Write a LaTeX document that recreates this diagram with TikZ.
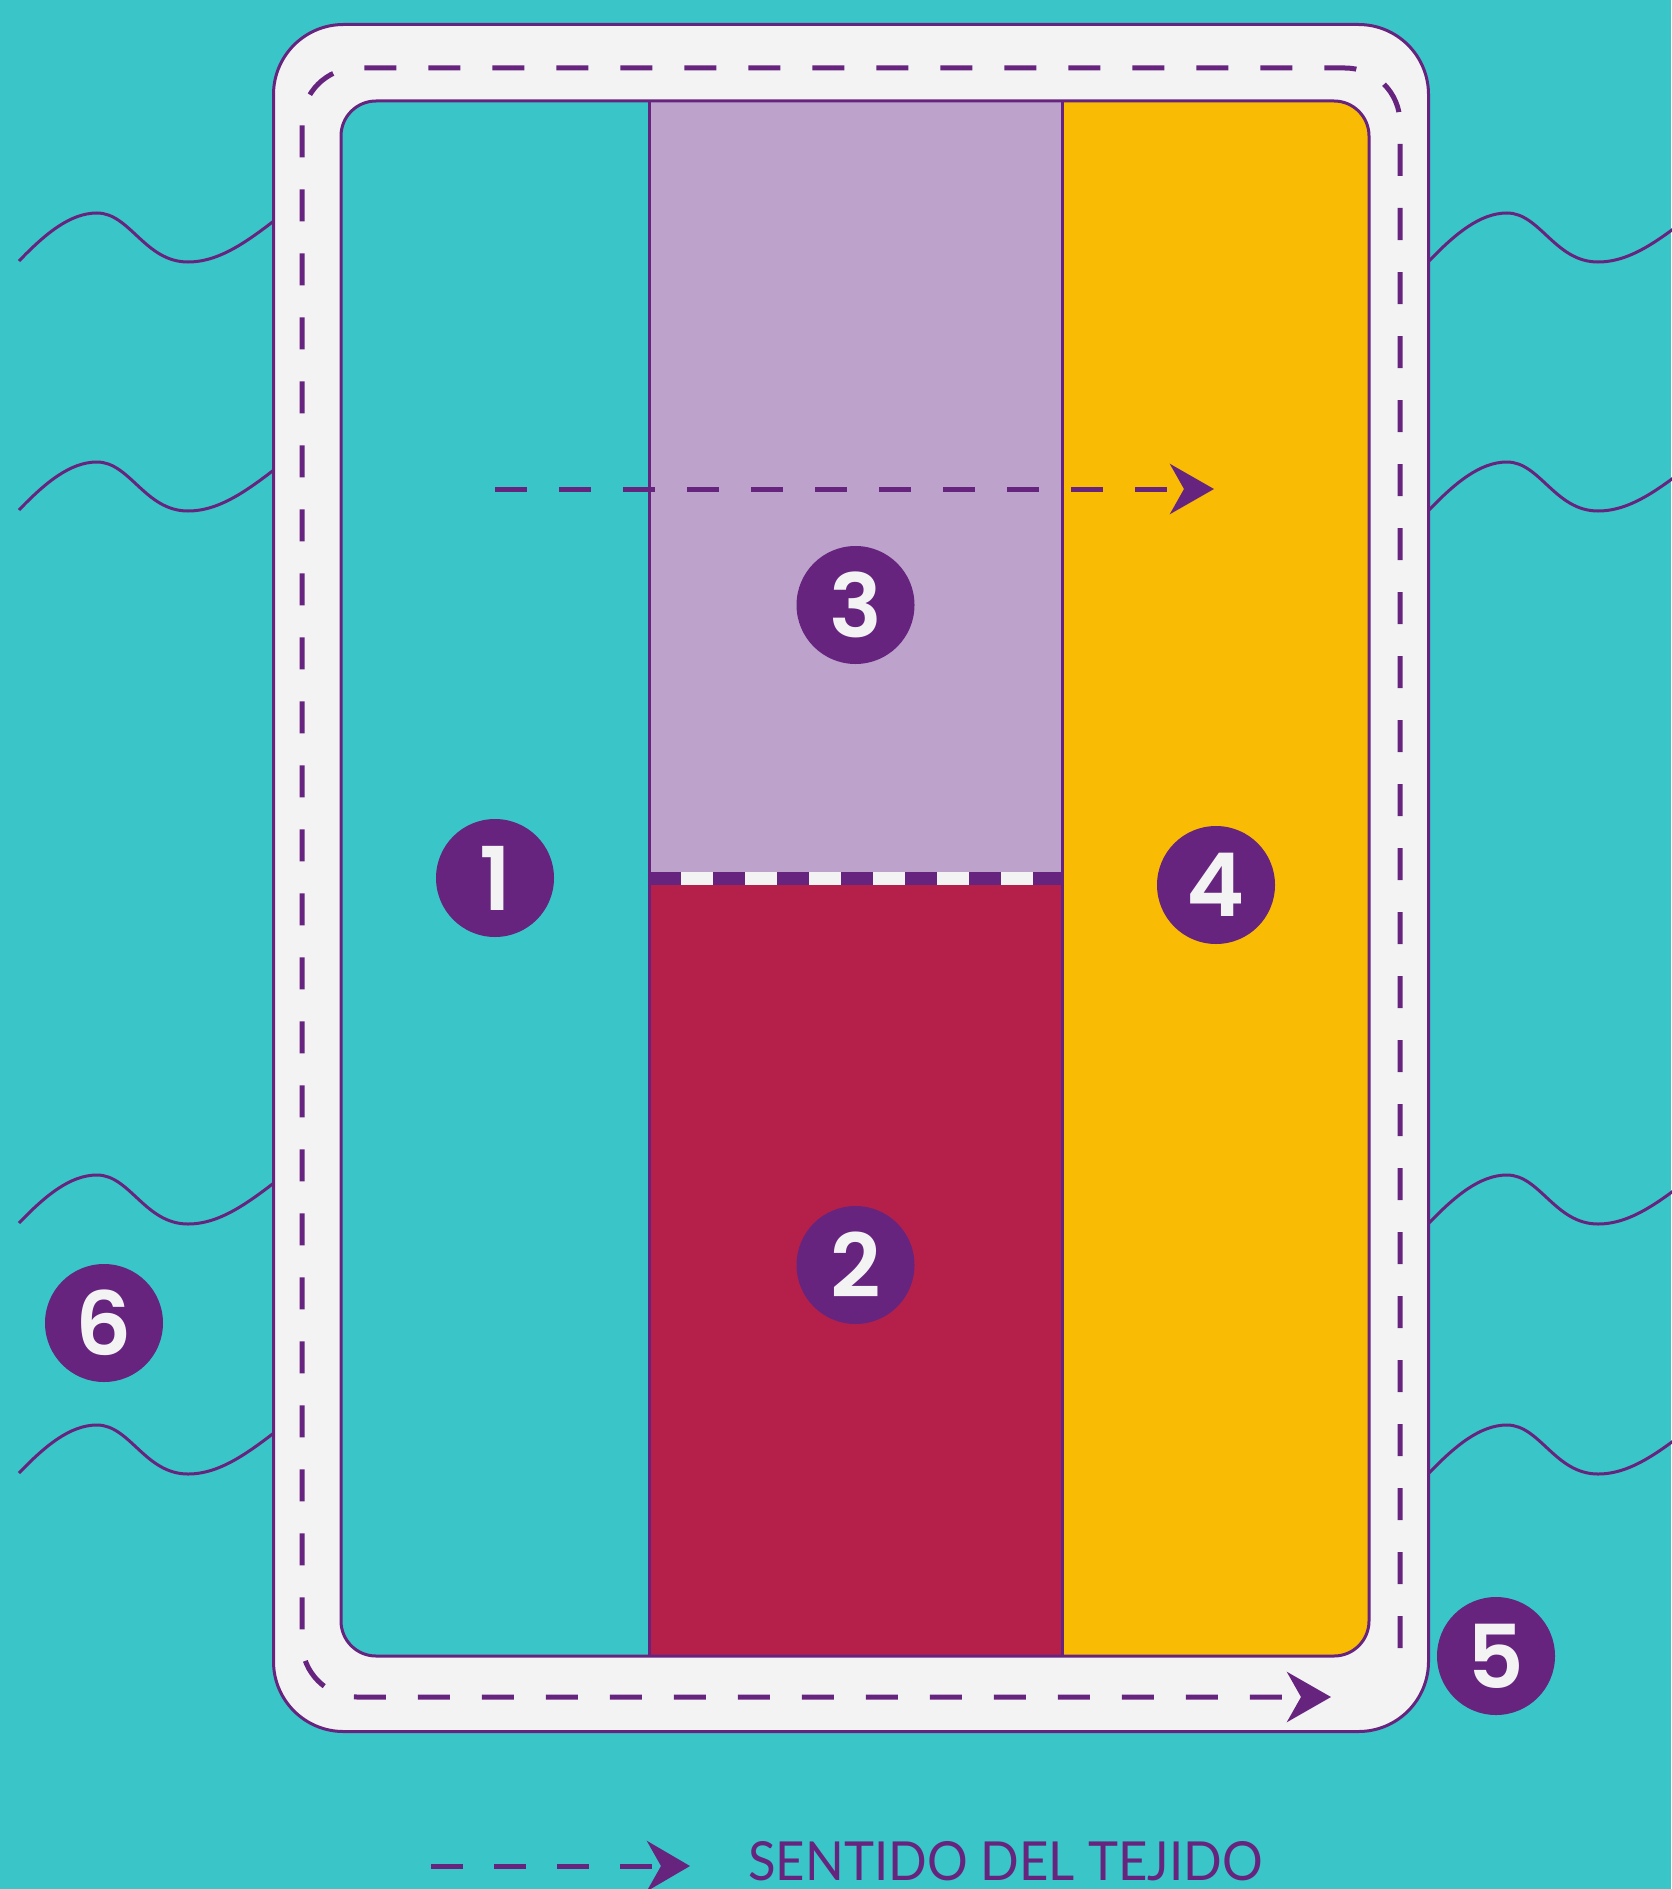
\documentclass[tikz,border=0pt]{standalone}
\usepackage{fontspec}
\usepackage{graphicx}
\setmainfont{Poppins}
\newfontfamily\numfont{Poppins}[UprightFont={* SemiBold}]
\newfontfamily\legendfont{Lato}
\usetikzlibrary{arrows.meta}
\definecolor{sea}{HTML}{3AC5C8}
\definecolor{plum}{HTML}{66247F}
\definecolor{lilac}{HTML}{BDA3CC}
\definecolor{ruby}{HTML}{B5204B}
\definecolor{amber}{HTML}{FABB04}
\definecolor{paper}{HTML}{F3F3F3}

\begin{document}
\begin{tikzpicture}[x=1pt,y=-1pt,
  thread/.style={draw=plum,line width=3pt},
  edge/.style={draw=plum,line width=3pt},
  grain/.style={draw=plum,line width=5pt,dash pattern=on 32pt off 32pt},
  grainhead/.style={-{Stealth[length=44pt,width=50pt,inset=14pt]}},
  numdot/.style={circle,fill=plum,minimum size=118pt,inner sep=0pt,text=paper,
    font=\fontsize{88}{88}\selectfont\numfont}]
\useasboundingbox (0,0) rectangle (1671,1889);
\fill[sea] (0,0) rectangle (1671,1889);

\foreach \dy in {0,249,962,1212} {
  \foreach \dx in {0,1410} {
    \draw[thread,shift={(\dx,\dy)}] (19,261) .. controls (45,234) and (70,213) .. (97,213)
      .. controls (130,213) and (145,262) .. (188,262)
      .. controls (222,262) and (252,238) .. (288,210);
  }
}

\draw[edge,fill=paper,rounded corners=70pt] (273.5,24.5) rectangle (1428.5,1731.5);

\coordinate (tl) at (341,101);
\coordinate (br) at (1369,1656);
\begin{scope}
\clip[rounded corners=35pt] (tl) rectangle (br);
\fill[sea] (tl) rectangle (br);
\fill[lilac] (649,101) rectangle (1062,872);
\fill[ruby] (649,885) rectangle (1062,1656);
\fill[amber] (1062,101) rectangle (1369,1656);
\end{scope}
\draw[edge,rounded corners=35pt] (tl) rectangle (br);
\draw[edge] (649,101) -- (649,1656);
\draw[edge] (1062,101) -- (1062,1656);
\fill[plum] (649,872) rectangle (1062,885);
\draw[paper,line width=13pt,dash pattern=on 32pt off 32pt] (681,878.5) -- (1040,878.5);

\draw[grain,grainhead,rounded corners=55pt] (1400,1648) -- (1400,68) -- (302,68) -- (302,1697) -- (1331,1697);
\draw[grain,grainhead] (495,489) -- (1214,489);

\node[numdot] (n1) at (495,878) {1};
\node[numdot] (n2) at (855.5,1265) {2};
\node[numdot] (n3) at (855.5,605) {3};
\node[numdot] (n4) at (1216,885) {4};
\node[numdot] (n5) at (1496,1656) {5};
\node[numdot] (n6) at (104,1323) {6};

\draw[grain,dash pattern=on 32pt off 31pt,-{Stealth[length=43pt,width=50pt,inset=14pt]}] (431,1866) -- (690,1866);
\node[anchor=base west,inner sep=0pt,text=plum] (legend) at (748,1880)
  {\resizebox{514pt}{39pt}{\legendfont SENTIDO DEL TEJIDO}};
\end{tikzpicture}
\end{document}
